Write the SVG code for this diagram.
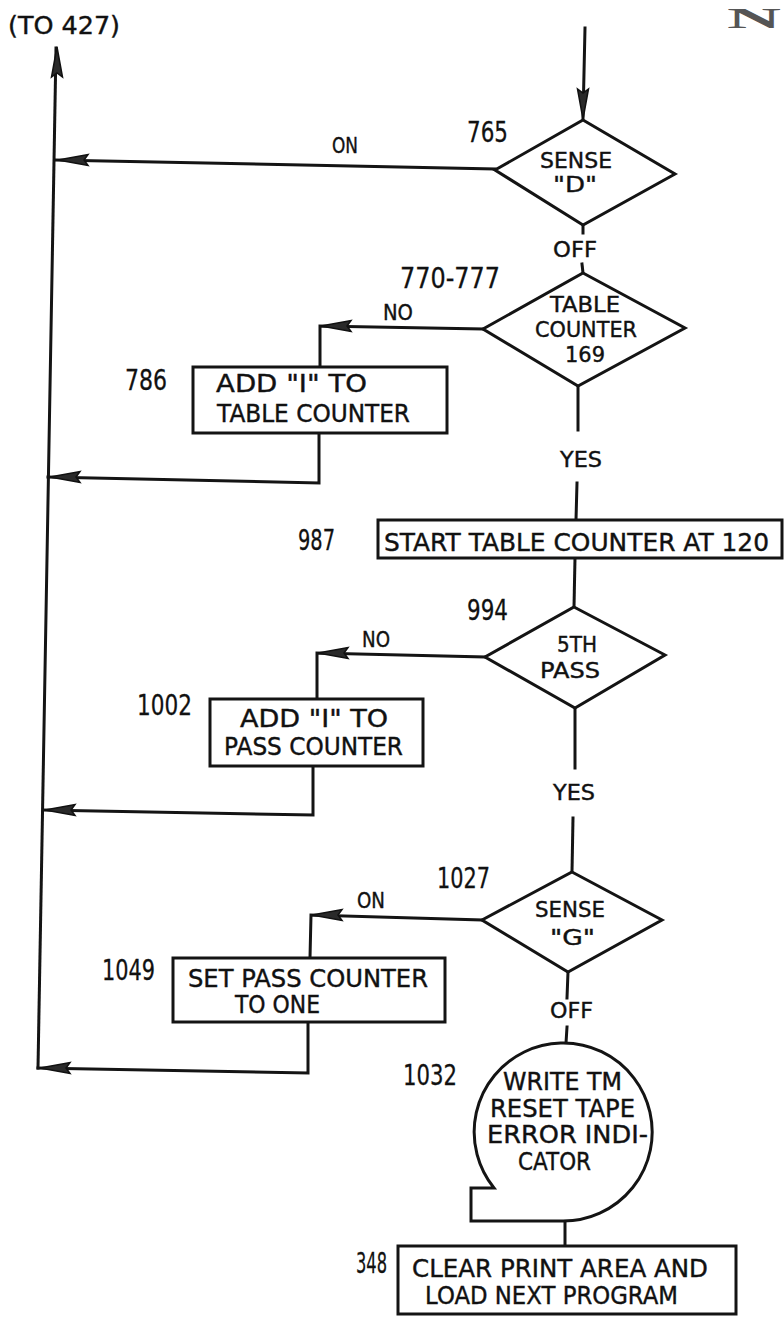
<svg xmlns="http://www.w3.org/2000/svg" xmlns:xlink="http://www.w3.org/1999/xlink" width="784" height="1317" viewBox="0 0 784 1317">
<style>
.bg{fill:#ffffff}
.ln{fill:none;stroke:#141414;stroke-width:3;stroke-linejoin:miter;stroke-linecap:square}
.sh{fill:#ffffff;stroke:#141414;stroke-width:3;stroke-linejoin:miter}
.t{font-family:"DejaVu Sans","Liberation Sans",sans-serif;font-size:24px;fill:#111111;stroke:#111111;stroke-width:0.4}
.d{font-family:"DejaVu Sans","Liberation Sans",sans-serif;font-size:21px;fill:#111111;stroke:#111111;stroke-width:0.4}
.n{font-family:"DejaVu Sans","Liberation Sans",sans-serif;font-size:28px;fill:#111111;stroke:#111111;stroke-width:0.3}
.s{font-family:"DejaVu Sans","Liberation Sans",sans-serif;font-size:22px;fill:#111111;stroke:#111111;stroke-width:0.4}
.ah{fill:#2a2a2a;stroke:#111111;stroke-width:1.5;stroke-linejoin:miter}
</style>
<defs>
<path id="ah" class="ah" d="M0,0 L-30,-5.5 L-26,0 L-30,5.5 Z"/>
</defs>
<rect class="bg" x="0" y="0" width="784" height="1317"/>
<text x="727" y="28" font-family="Liberation Serif,serif" font-weight="bold" font-size="30" fill="#555555" textLength="54" lengthAdjust="spacingAndGlyphs">N</text>

<g id="connectors">
  <text class="t" x="8" y="34" textLength="112" lengthAdjust="spacingAndGlyphs">(TO 427)</text>
  <polyline class="ln" points="56,48 38,1068"/>
  <use xlink:href="#ah" transform="translate(57,47) rotate(-90)"/>
  <polyline class="ln" points="585,28 583,118"/>
  <use xlink:href="#ah" transform="translate(583,119) rotate(90)"/>
  <polyline class="ln" points="495,169 56,160"/>
  <use xlink:href="#ah" transform="translate(58,160) rotate(180)"/>
  <text class="s" x="332" y="153" textLength="26" lengthAdjust="spacingAndGlyphs">ON</text>
  <polyline class="ln" points="583,225 583,233"/>
  <text class="s" x="553" y="257" textLength="44" lengthAdjust="spacingAndGlyphs">OFF</text>
  <polyline class="ln" points="582,264 583,273"/>
  <polyline class="ln" points="483,329 320,326 320,367"/>
  <use xlink:href="#ah" transform="translate(321,326) rotate(180)"/>
  <text class="s" x="383" y="320" textLength="30" lengthAdjust="spacingAndGlyphs">NO</text>
  <polyline class="ln" points="319,433 319,483 48,477"/>
  <use xlink:href="#ah" transform="translate(50,477) rotate(180)"/>
  <polyline class="ln" points="578,386 578,430"/>
  <text class="s" x="560" y="467" textLength="42" lengthAdjust="spacingAndGlyphs">YES</text>
  <polyline class="ln" points="577,483 576,520"/>
  <polyline class="ln" points="575,558 574,607"/>
  <polyline class="ln" points="485,657 317,653 317,699"/>
  <use xlink:href="#ah" transform="translate(318,653) rotate(180)"/>
  <text class="s" x="362" y="647" textLength="28" lengthAdjust="spacingAndGlyphs">NO</text>
  <polyline class="ln" points="313,766 313,815 44,810"/>
  <use xlink:href="#ah" transform="translate(45,810) rotate(180)"/>
  <polyline class="ln" points="575,708 575,768"/>
  <text class="s" x="553" y="800" textLength="42" lengthAdjust="spacingAndGlyphs">YES</text>
  <polyline class="ln" points="573,818 572,872"/>
  <polyline class="ln" points="482,920 311,915 310,958"/>
  <use xlink:href="#ah" transform="translate(312,915) rotate(180)"/>
  <text class="s" x="357" y="908" textLength="28" lengthAdjust="spacingAndGlyphs">ON</text>
  <polyline class="ln" points="308,1022 308,1073 38,1068"/>
  <use xlink:href="#ah" transform="translate(40,1068) rotate(180)"/>
  <polyline class="ln" points="568,972 567,998"/>
  <text class="s" x="550" y="1018" textLength="43" lengthAdjust="spacingAndGlyphs">OFF</text>
  <polyline class="ln" points="567,1027 566,1043"/>
  <polyline class="ln" points="565,1222 565,1246"/>
</g>

<g id="n765">
  <polygon class="sh" points="583,120 675,174 583,225 495,170"/>
  <text class="n" x="467" y="142" textLength="41" lengthAdjust="spacingAndGlyphs">765</text>
  <text class="d" x="540" y="168" textLength="72" lengthAdjust="spacingAndGlyphs">SENSE</text>
  <text class="s" x="553" y="192" font-size="18" textLength="44" lengthAdjust="spacingAndGlyphs">"D"</text>
</g>

<g id="n770">
  <polygon class="sh" points="583,273 685,328 578,386 483,329"/>
  <text class="n" x="400" y="288" textLength="100" lengthAdjust="spacingAndGlyphs">770-777</text>
  <text class="d" x="550" y="312" textLength="70" lengthAdjust="spacingAndGlyphs">TABLE</text>
  <text class="d" x="535" y="337" textLength="102" lengthAdjust="spacingAndGlyphs">COUNTER</text>
  <text class="d" x="565" y="362" textLength="40" lengthAdjust="spacingAndGlyphs">169</text>
</g>

<g id="n786">
  <rect class="sh" x="193" y="367" width="254" height="66"/>
  <text class="n" x="125" y="390" textLength="42" lengthAdjust="spacingAndGlyphs">786</text>
  <text class="t" x="216" y="392" textLength="151" lengthAdjust="spacingAndGlyphs">ADD "I" TO</text>
  <text class="t" x="217" y="422" textLength="193" lengthAdjust="spacingAndGlyphs">TABLE COUNTER</text>
</g>

<g id="n987">
  <rect class="sh" x="378" y="520" width="404" height="38"/>
  <text class="n" x="298" y="550" textLength="37" lengthAdjust="spacingAndGlyphs">987</text>
  <text class="t" x="384" y="551" textLength="385" lengthAdjust="spacingAndGlyphs">START TABLE COUNTER AT 120</text>
</g>

<g id="n994">
  <polygon class="sh" points="574,607 665,655 575,708 485,657"/>
  <text class="n" x="467" y="620" textLength="41" lengthAdjust="spacingAndGlyphs">994</text>
  <text class="d" x="557" y="652" textLength="40" lengthAdjust="spacingAndGlyphs">5TH</text>
  <text class="d" x="540" y="678" textLength="60" lengthAdjust="spacingAndGlyphs">PASS</text>
</g>

<g id="n1002">
  <rect class="sh" x="210" y="699" width="213" height="67"/>
  <text class="n" x="137" y="715" textLength="55" lengthAdjust="spacingAndGlyphs">1002</text>
  <text class="t" x="240" y="727" textLength="148" lengthAdjust="spacingAndGlyphs">ADD "I" TO</text>
  <text class="t" x="224" y="755" textLength="179" lengthAdjust="spacingAndGlyphs">PASS COUNTER</text>
</g>

<g id="n1027">
  <polygon class="sh" points="572,872 662,920 568,972 482,920"/>
  <text class="n" x="437" y="888" textLength="53" lengthAdjust="spacingAndGlyphs">1027</text>
  <text class="d" x="535" y="917" textLength="70" lengthAdjust="spacingAndGlyphs">SENSE</text>
  <text class="d" x="550" y="945" textLength="45" lengthAdjust="spacingAndGlyphs">"G"</text>
</g>

<g id="n1049">
  <rect class="sh" x="173" y="958" width="272" height="64"/>
  <text class="n" x="102" y="980" textLength="53" lengthAdjust="spacingAndGlyphs">1049</text>
  <text class="t" x="188" y="987" textLength="240" lengthAdjust="spacingAndGlyphs">SET PASS COUNTER</text>
  <text class="t" x="235" y="1013" textLength="85" lengthAdjust="spacingAndGlyphs">TO ONE</text>
</g>

<g id="n1032">
  <path class="sh" d="M494,1188 A89,89 0 1 1 563,1221 L471,1221 L471,1188 Z"/>
  <text class="n" x="403" y="1085" textLength="54" lengthAdjust="spacingAndGlyphs">1032</text>
  <text class="t" x="503" y="1090" textLength="119" lengthAdjust="spacingAndGlyphs">WRITE TM</text>
  <text class="t" x="490" y="1117" textLength="145" lengthAdjust="spacingAndGlyphs">RESET TAPE</text>
  <text class="t" x="487" y="1143" textLength="161" lengthAdjust="spacingAndGlyphs">ERROR INDI-</text>
  <text class="t" x="518" y="1170" textLength="73" lengthAdjust="spacingAndGlyphs">CATOR</text>
</g>

<g id="n348">
  <rect class="sh" x="398" y="1246" width="338" height="68"/>
  <text class="n" x="356" y="1273" textLength="31" lengthAdjust="spacingAndGlyphs">348</text>
  <text class="t" x="412" y="1277" textLength="296" lengthAdjust="spacingAndGlyphs">CLEAR PRINT AREA AND</text>
  <text class="t" x="425" y="1304" textLength="253" lengthAdjust="spacingAndGlyphs">LOAD NEXT PROGRAM</text>
</g>
</svg>
